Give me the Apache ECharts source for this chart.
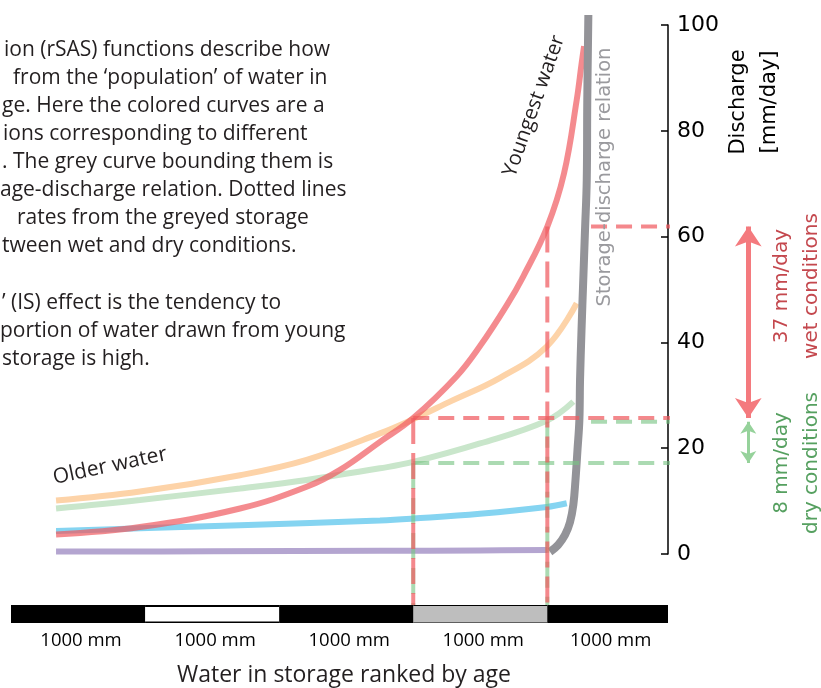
<!DOCTYPE html>
<html><head><meta charset="utf-8">
<script src="https://cdn.jsdelivr.net/npm/echarts@6/dist/echarts.min.js"></script>
<style>html,body{margin:0;padding:0;background:#fff}#chart{width:821px;height:688px}</style>
</head><body><div id="chart"></div>
<script>
// ---------- data (storage ranked by age [mm], discharge [mm/day]) ----------
const purpleStorage = [336, 1500, 2752, 3500, 4000];
const purpleQ       = [0.45, 0.5, 0.6, 0.68, 0.75];
const blueStorage   = [336, 962, 1708, 2752, 3000, 3498, 3995, 4145];
const blueQ         = [4.35, 4.86, 5.45, 6.35, 6.7, 7.6, 8.9, 9.6];
const greenStorage  = [336, 962, 1708, 2205, 2752, 3000, 3498, 3995, 4194];
const greenQ        = [8.6, 10.2, 12.4, 14.0, 16.2, 17.4, 20.9, 25.2, 28.8];
const orangeStorage = [336, 962, 1708, 2205, 2752, 3000, 3274, 3647, 3995, 4219];
const orangeQ       = [10.1, 11.8, 14.9, 17.8, 22.8, 25.5, 28.8, 33.3, 39.2, 47.4];
const redStorage    = [336, 962, 1708, 2205, 2454, 2752, 3000, 3324, 3498, 3697, 3821, 4000, 4125, 4219, 4256, 4274];
const redQ          = [3.7, 5.1, 8.6, 12.7, 15.9, 21.2, 25.7, 33.6, 39.3, 47.0, 52.5, 61.9, 72.0, 85.8, 92.8, 96.0];
const greyStorage   = [4020, 4080, 4132, 4169, 4194, 4210, 4225, 4239, 4244, 4255, 4268, 4281, 4294, 4298, 4306];
const greyQ         = [0.4, 1.7, 3.6, 6.0, 9.3, 14.0, 19.7, 25.3, 32.9, 42.3, 51.8, 61.2, 70.7, 85.8, 101.9];

const markedStorage = [3000, 4000];      // edges of the greyed storage block
const wetQ = [25.7, 61.9];               // red curve at the two edges
const dryQ = [17.2, 25.0];               // green curve at the two edges
const wetLabel = ['37 mm/day', 'wet conditions'];
const dryLabel = ['8 mm/day', 'dry conditions'];

const yTicks = [0, 20, 40, 60, 80, 100];
const scaleStart  = [0, 1000, 2000, 3000, 4000];
const scaleEnd    = [1000, 2000, 3000, 4000, 4900];
const scaleLabels = ['1000 mm', '1000 mm', '1000 mm', '1000 mm', '1000 mm'];

const paragraph = [
  'ion (rSAS) functions describe how',
  'from the \u2018population\u2019 of water in',
  'ge. Here the colored curves are a',
  'ions corresponding to different',
  '. The grey curve bounding them is',
  'age-discharge relation. Dotted lines',
  'rates from the greyed storage',
  'tween wet and dry conditions.',
  '',
  '\u2019 (IS) effect is the tendency to',
  'portion of water drawn from young',
  'storage is high.'
];

// ---------- layout constants (not data) ----------
const X_MAX = 4900;
const REF_END = 5571;     // right end of dashed reference lines (x-axis units)
const ARROW_X = 5499;
const UPPER_START = 4326;
const BAR_TOP = -9.64;    // top of the scale bar in y-axis units
const paraX = [4, 13, 2, 3, 2, 0, 17, 2, 0, 2, 0, 2];

const zip = (a, b) => a.map((v, i) => [v, b[i]]);
const TXT = '#231f20';

function curve(xs, ys, color, width, z) {
  return {type: 'line', data: zip(xs, ys), xAxisIndex: 0, yAxisIndex: 0,
    symbol: 'none', smooth: 0.4, clip: false, silent: true,
    lineStyle: {color: color, width: width, cap: 'butt'}, z: z};
}
function dashed(points, color, dash, z) {
  return {type: 'line', data: points, xAxisIndex: 0, yAxisIndex: 0, symbol: 'none',
    clip: false, silent: true, z: z,
    lineStyle: {color: color, width: 4, type: dash}};
}

const RED_D = 'rgba(240,90,95,0.72)';
const GREEN_D = 'rgba(120,195,130,0.62)';
const series = [
  curve(purpleStorage, purpleQ, '#b4a5d0', 6, 2),
  curve(blueStorage, blueQ, '#85d4f1', 6, 3),
  curve(greenStorage, greenQ, '#c9e6cb', 6, 4),
  curve(orangeStorage, orangeQ, '#fdd3a8', 6, 5),
  curve(redStorage, redQ, 'rgba(240,90,95,0.7)', 6, 6),
  curve(greyStorage, greyQ, '#939398', 8, 7),
  // dashed reference lines
  dashed([[markedStorage[0], wetQ[0]], [REF_END, wetQ[0]]], RED_D, [16, 9], 8),
  dashed([[UPPER_START, wetQ[1]], [REF_END, wetQ[1]]], RED_D, [16, 9], 8),
  dashed([[markedStorage[0], dryQ[0]], [REF_END, dryQ[0]]], GREEN_D, [16, 9], 8),
  dashed([[UPPER_START, dryQ[1]], [REF_END, dryQ[1]]], GREEN_D, [16, 9], 8),
  dashed([[markedStorage[0], dryQ[0]], [markedStorage[0], BAR_TOP]], GREEN_D, [26, 9], 8),
  dashed([[markedStorage[1], dryQ[1]], [markedStorage[1], BAR_TOP]], GREEN_D, [26, 9], 8),
  dashed([[markedStorage[0], wetQ[0]], [markedStorage[0], BAR_TOP]], RED_D, [26, 9], 9),
  dashed([[markedStorage[1], wetQ[1]], [markedStorage[1], BAR_TOP]], RED_D, [26, 9], 9),
  // arrows
  {type: 'lines', coordinateSystem: 'cartesian2d', xAxisIndex: 0, yAxisIndex: 0, clip: false,
   silent: true, z: 10, symbol: ['arrow', 'arrow'], symbolSize: 20,
   lineStyle: {color: '#f47a7e', width: 5, opacity: 1},
   data: [{coords: [[ARROW_X, wetQ[1]], [ARROW_X, wetQ[0]]]}]},
  {type: 'lines', coordinateSystem: 'cartesian2d', xAxisIndex: 0, yAxisIndex: 0, clip: false,
   silent: true, z: 10, symbol: ['arrow', 'arrow'], symbolSize: 12,
   lineStyle: {color: '#96d29b', width: 3, opacity: 1},
   data: [{coords: [[ARROW_X, dryQ[1]], [ARROW_X, dryQ[0]]]}]},
  // scale bar
  {type: 'custom', xAxisIndex: 1, yAxisIndex: 1, silent: true, clip: false, z: 3,
   data: scaleStart.map((s, i) => [s, scaleEnd[i]]),
   renderItem: function (params, api) {
     const i = params.dataIndex;
     const a = api.coord([api.value(0), 1]);
     const b = api.coord([api.value(1), 0]);
     const w = b[0] - a[0], h = b[1] - a[1];
     const kids = [{type: 'rect', shape: {x: a[0], y: a[1], width: w, height: h}, style: {fill: '#000'}}];
     if (i === 1) kids.push({type: 'rect', shape: {x: a[0], y: a[1] + 2, width: w, height: h - 3.5}, style: {fill: '#fff'}});
     if (i === 3) kids.push({type: 'rect', shape: {x: a[0], y: a[1] + 1, width: w, height: h - 1.5}, style: {fill: '#bebebe'}});
     kids.push({type: 'text', style: {text: scaleLabels[i], x: (a[0] + b[0]) / 2 + 3, y: b[1] + 18,
       align: 'center', verticalAlign: 'middle', fontSize: 18.5, fontFamily: 'Open Sans', fill: '#000'}});
     return {type: 'group', children: kids};
   }}
];

function rotText(text, x, y, rot, size, family, fill, lh) {
  return {type: 'text', x: x, y: y, rotation: rot, silent: true, z: 20,
    style: {text: text, fontSize: size, fontFamily: family, fill: fill,
      align: 'center', verticalAlign: 'middle', textAlign: 'center', textVerticalAlign: 'middle',
      lineHeight: lh || size * 1.2}};
}

const graphics = [];
paragraph.forEach((t, i) => {
  if (!t) return;
  graphics.push({type: 'text', x: paraX[i], y: 49.7 + 28.1 * i, silent: true,
    style: {text: t, fontSize: 21, fontFamily: 'Open Sans', fill: TXT,
      align: 'left', verticalAlign: 'middle', textAlign: 'left', textVerticalAlign: 'middle'}});
});
graphics.push(rotText('Youngest water', 534, 106, 70.5 * Math.PI / 180, 20.5, 'Open Sans', TXT));
graphics.push(rotText('Older water', 110, 466, 12 * Math.PI / 180, 21, 'Open Sans', TXT));
graphics.push(rotText('Storage-discharge relation', 605, 177, Math.PI / 2, 19.5, 'DejaVu Sans', '#9a9a9e'));
graphics.push(rotText('Discharge\n[mm/day]', 754, 102, Math.PI / 2, 21, 'DejaVu Sans', '#000', 31));
graphics.push(rotText(wetLabel.join('\n'), 797, 286, Math.PI / 2, 20, 'DejaVu Sans', '#c4484e', 30));
graphics.push(rotText(dryLabel.join('\n'), 797, 463, Math.PI / 2, 20, 'DejaVu Sans', '#56a060', 30));

const option = {
  animation: false,
  backgroundColor: '#fff',
  grid: [
    {left: 11, top: 25, width: 657, height: 529, containLabel: false, outerBoundsMode: 'none'},
    {left: 11, top: 605, width: 657, height: 18, containLabel: false, outerBoundsMode: 'none'}
  ],
  xAxis: [
    {type: 'value', gridIndex: 0, min: 0, max: X_MAX, show: false},
    {type: 'value', gridIndex: 1, min: 0, max: X_MAX,
     axisLine: {show: false}, axisTick: {show: false}, axisLabel: {show: false}, splitLine: {show: false},
     name: 'Water in storage ranked by age', nameLocation: 'middle', nameGap: 41,
     nameTextStyle: {fontSize: 23, fontFamily: 'Open Sans', color: TXT, padding: [0, 0, 0, 9]}}
  ],
  yAxis: [
    {type: 'value', gridIndex: 0, min: yTicks[0], max: yTicks[yTicks.length - 1], interval: 20,
     position: 'right',
     axisLine: {show: true, onZero: false, lineStyle: {color: '#000', width: 1.5}},
     axisTick: {show: true, inside: true, length: 7, lineStyle: {color: '#000', width: 1.5}},
     axisLabel: {color: '#000', fontSize: 22, fontFamily: 'DejaVu Sans', margin: 9},
     splitLine: {show: false}},
    {type: 'value', gridIndex: 1, min: 0, max: 1, show: false}
  ],
  series: series,
  graphic: graphics
};

const chart = echarts.init(document.getElementById('chart'), null, {renderer: 'canvas'});
chart.setOption(option);
</script>
</body></html>
